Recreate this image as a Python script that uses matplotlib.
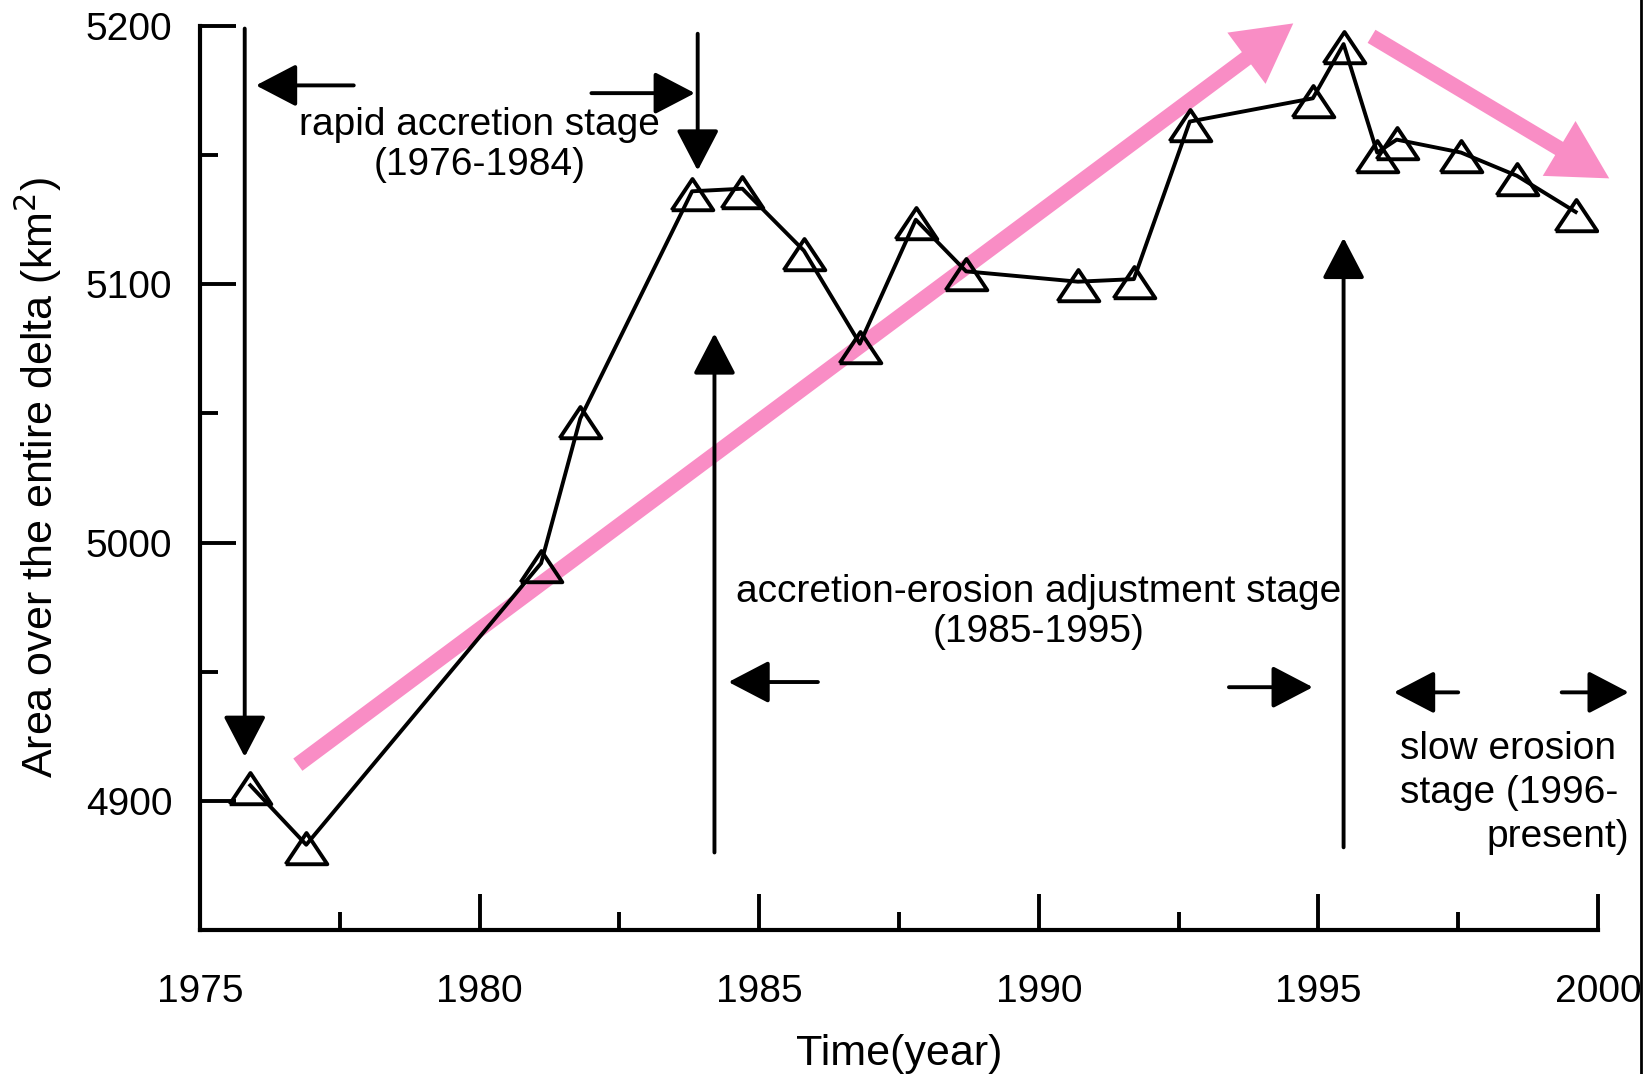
import numpy as np
import matplotlib
matplotlib.use("Agg")
import matplotlib.pyplot as plt
from matplotlib.lines import Line2D

plt.rcParams['font.family'] = ['Liberation Sans', 'DejaVu Sans']

# area of the whole delta
years = [1975.9, 1976.9, 1981.1, 1981.8, 1983.8, 1984.7, 1985.8, 1986.8, 1987.8,
         1988.7, 1990.7, 1991.7, 1992.7, 1994.9, 1995.45, 1996.05, 1996.4,
         1997.55, 1998.55, 1999.6]
area = [4906, 4883, 4992, 5048, 5136, 5137, 5113, 5077, 5125, 5105, 5101, 5102,
        5163, 5172, 5193, 5151, 5156, 5151, 5142, 5128]

x_major = [1975, 1980, 1985, 1990, 1995, 2000]
x_minor = [1977.5, 1982.5, 1987.5, 1992.5, 1997.5]
y_major = [4900, 5000, 5100, 5200]
y_minor = [4950, 5050, 5150]

# stage annotations (text, x, y)
stage_rapid = ("rapid accretion stage\n(1976-1984)", 1980.0, 5154)
stage_adjust = ("accretion-erosion adjustment stage\n(1985-1995)", 1990.0, 4973)

# black arrows: (x_from, y_from, x_to, y_to)
black_arrows = [
    (1975.8, 5199, 1975.8, 4917),
    (1977.75, 5177, 1976.0, 5177),
    (1982.0, 5174, 1983.85, 5174),
    (1983.9, 5197, 1983.9, 5144),
    (1984.2, 4880, 1984.2, 5081),
    (1986.05, 4946, 1984.45, 4946),
    (1993.4, 4944, 1994.9, 4944),
    (1995.45, 4882, 1995.45, 5118),
    (1997.5, 4942, 1996.35, 4942),
    (1999.35, 4942, 2000.55, 4942),
]

# pink trend arrows
trend_arrows = [
    (1976.75, 4914, 1994.55, 5201),
    (1995.95, 5196, 2000.2, 5141),
]

pink = '#F98DC5'

fig = plt.figure(figsize=(16.5, 10.74), dpi=100)
ax = fig.add_axes([0.1212, 0.1341, 0.8473, 0.8417])

# trend arrows first so the data sits on top
for x0, y0, x1, y1 in trend_arrows:
    ax.annotate('', xy=(x1, y1), xytext=(x0, y0), annotation_clip=False,
                arrowprops=dict(arrowstyle='simple,head_length=42,head_width=46,tail_width=11',
                                mutation_scale=1, color=pink, lw=0,
                                shrinkA=0, shrinkB=0), zorder=1)

tri = [(-1, -0.9), (1, -0.9), (0, 0.6), (-1, -0.9)]
ax.plot(years, area, color='black', lw=2.8, zorder=3)
ax.plot(years, area, ls='none', marker=tri, ms=30, mfc='none', mec='black',
        mew=2.8, zorder=4)

for x0, y0, x1, y1 in black_arrows:
    ax.annotate('', xy=(x1, y1), xytext=(x0, y0), annotation_clip=False,
                arrowprops=dict(arrowstyle='-|>,head_length=1.15,head_width=0.6',
                                mutation_scale=22, color='black', lw=2.8,
                                shrinkA=0, shrinkB=0), zorder=5)

for txt, x, y in [stage_rapid, stage_adjust]:
    ax.text(x, y, txt, ha='center', va='center', fontsize=28,
            linespacing=1.15, zorder=6)

ax.text(1996.45, 4920, "slow erosion", ha='left', va='center', fontsize=28)
ax.text(1996.45, 4903, "stage (1996-", ha='left', va='center', fontsize=28)
ax.text(2000.55, 4886, "present)", ha='right', va='center', fontsize=28)

ax.set_xlim(1975, 2000)
ax.set_ylim(4850, 5200)
ax.set_xticks(x_major)
ax.set_xticks(x_minor, minor=True)
ax.set_yticks(y_major)
ax.set_yticks(y_minor, minor=True)

for s in ['top', 'right']:
    ax.spines[s].set_visible(False)
for s in ['left', 'bottom']:
    ax.spines[s].set_linewidth(3)

ax.tick_params(which='major', direction='in', length=26, width=2.8, labelsize=28)
ax.tick_params(which='minor', direction='in', length=13, width=2.8)
ax.tick_params(axis='y', which='major', pad=20)
ax.tick_params(axis='x', which='major', pad=32)

ax.set_xlabel('Time(year)', fontsize=31)
ax.xaxis.set_label_coords(0.5, -0.115)
ax.set_ylabel('Area over the entire delta (km$^2$)', fontsize=31)
ax.yaxis.set_label_coords(-0.097, 0.5)

# border line at the right edge of the original figure
fig.add_artist(Line2D([0.9948, 0.9948], [0, 1], transform=fig.transFigure,
                      color='black', lw=2))

fig.savefig('out.png', dpi=100)
